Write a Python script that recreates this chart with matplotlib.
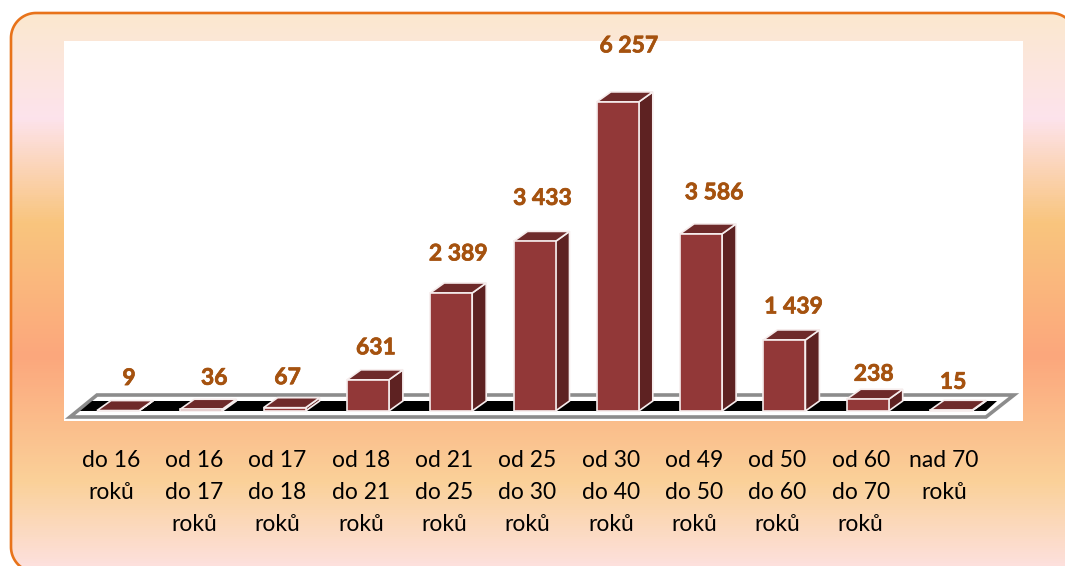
import matplotlib
matplotlib.use("Agg")
import matplotlib.patheffects as pe
import matplotlib.pyplot as plt
import numpy as np
from matplotlib.colors import LinearSegmentedColormap
from matplotlib.patches import Polygon

categories = ["do 16\nroků", "od 16\ndo 17\nroků", "od 17\ndo 18\nroků", "od 18\ndo 21\nroků",
              "od 21\ndo 25\nroků", "od 25\ndo 30\nroků", "od 30\ndo 40\nroků", "od 49\ndo 50\nroků",
              "od 50\ndo 60\nroků", "od 60\ndo 70\nroků", "nad 70\nroků"]
values = [9, 36, 67, 631, 2389, 3433, 6257, 3586, 1439, 238, 15]
value_labels = ["9", "36", "67", "631", "2 389", "3 433", "6 257", "3 586", "1 439", "238", "15"]

# hand placed label offsets, in pixels from the top of each bar
label_dx = [11, 13, 3, 8, 7, 8, 11, 13, 9, 6, 2]
label_dy = [32, 31, 30, 32, 39, 43, 56, 41, 33, 25, 28]

W, H = 1065, 566
plt.rcParams["font.family"] = ["Lato", "DejaVu Sans"]
fig = plt.figure(figsize=(W / 100, H / 100), dpi=100, facecolor="white")

# background panel with the vertical gradient, it runs off the right and bottom edge
bg = fig.add_axes([0, 0, 1, 1])
bg.set_xlim(0, W)
bg.set_ylim(H, 0)
bg.axis("off")
stops = [(0, "#FBE9CB"), (117, "#FDE3EC"), (222, "#F9C57E"), (357, "#FCA77C"), (483, "#FAD199"), (566, "#FDE0DC")]
cmap = LinearSegmentedColormap.from_list("panel", [(p / H, c) for p, c in stops])
grad = np.linspace(0, 1, H).reshape(-1, 1)
im = bg.imshow(grad, cmap=cmap, extent=(0, W, H, 0), aspect="auto", vmin=0, vmax=1)


def arc(cx, cy, r, a0, a1):
    t = np.radians(np.linspace(a0, a1, 30))
    return np.column_stack([cx + r * np.cos(t), cy + r * np.sin(t)])


# outline as plain points, curves running off the canvas got drawn slanted
r = 25
pl, pr, pt, pb = 11, 1076, 13, 572
outline = np.vstack([arc(pl + r, pb - r, r, 90, 180), arc(pl + r, pt + r, r, 180, 270),
                     arc(pr - r, pt + r, r, 270, 360), [[pr, pb]]])
panel = Polygon(outline, closed=True, fc="none", ec="#E8731A", lw=1.9, zorder=3)
bg.add_patch(panel)
im.set_clip_path(panel)

# plot area, x in category index and y in value units
PX_STEP = 83.3
PX_PER_VAL = 0.0494
x0, base = 118, 411
left, right, top, bottom = 64, 1023, 41, 421
ax = fig.add_axes([left / W, 1 - bottom / H, (right - left) / W, (bottom - top) / H])
ax.set_xlim((left - x0) / PX_STEP, (right - x0) / PX_STEP)
ax.set_ylim((base - bottom) / PX_PER_VAL, (base - top) / PX_PER_VAL)
ax.axis("off")
ax.add_patch(plt.Rectangle((0, 0), 1, 1, transform=ax.transAxes, fc="white", ec="none", zorder=0))


def px(x, y):
    return (x - x0) / PX_STEP, (base - y) / PX_PER_VAL


# floor
frame = [px(70, 417), px(97, 395), px(1014, 395), px(986, 417)]
ax.add_patch(Polygon(frame, closed=True, fc="white", ec="#8C8C8C", lw=2.6, zorder=1))
band = [px(80, 411), px(92, 401), px(997, 401), px(986, 411)]
ax.add_patch(Polygon(band, closed=True, fc="black", ec="none", zorder=2))

# 3d bars
half = 21 / PX_STEP
dx = 14 / PX_STEP
dy = 10 / PX_PER_VAL
edge = "#F6EDED"
for i, v in enumerate(values):
    a, b = i - half, i + half
    ax.add_patch(Polygon([(b, 0), (b + dx, dy), (b + dx, v + dy), (b, v)], fc="#5E2222", ec=edge, lw=1.2, zorder=3))
    ax.add_patch(Polygon([(a, v), (b, v), (b + dx, v + dy), (a + dx, v + dy)], fc="#6E2A2A", ec=edge, lw=1.2, zorder=4))
    ax.add_patch(plt.Rectangle((a, 0), b - a, v, fc="#923838", ec=edge, lw=1.2, zorder=5))
    ax.annotate(value_labels[i], (i, v), xytext=(label_dx[i], label_dy[i]), textcoords="offset pixels",
                ha="center", va="center", fontsize=16.5, fontweight="bold", color="#A5520F",
                annotation_clip=False, zorder=6,
                path_effects=[pe.withStroke(linewidth=0.5, foreground="#A5520F")])
    ax.annotate(categories[i], (i, 0), xytext=(-7, -39), textcoords="offset pixels",
                ha="center", va="top", fontsize=16.5, color="black", linespacing=1.65,
                annotation_clip=False, zorder=6)

fig.savefig("out.png", dpi=100)
